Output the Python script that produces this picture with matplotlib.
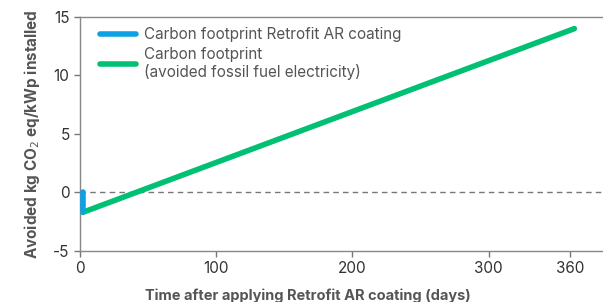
import matplotlib
matplotlib.use('Agg')
import matplotlib.pyplot as plt

plt.rcParams['font.family'] = ['Inter', 'DejaVu Sans']
plt.rcParams['axes.unicode_minus'] = False

# data
coating_days = [2, 2]
coating_co2 = [0, -1.7]
avoided_days = [2, 363]
avoided_co2 = [-1.7, 14]
xticks = [0, 100, 200, 300, 360]
yticks = [-5, 0, 5, 10, 15]

fig = plt.figure(figsize=(6.03, 3.02), dpi=100)
ax = fig.add_axes([0.1327, 0.169, 0.8673, 0.775])

ax.axhline(0, color='#777777', lw=1, ls=(0, (4, 3)), zorder=1)
ax.plot(coating_days, coating_co2, color='#0DA0E2', lw=4, clip_on=False,
        solid_capstyle='round', label='Carbon footprint Retrofit AR coating', zorder=3)
ax.plot(avoided_days, avoided_co2, color='#00C074', lw=4, clip_on=False,
        solid_capstyle='round', label='Carbon footprint\n(avoided fossil fuel electricity)', zorder=2)

ax.set_xlim(0, 384)
ax.set_ylim(-5, 15)
ax.set_xticks(xticks)
ax.set_yticks(yticks)

ax.spines['right'].set_visible(False)
for s in ['left', 'bottom', 'top']:
    ax.spines[s].set_color('#888888')
    ax.spines[s].set_linewidth(1)
ax.tick_params(colors='#777777', labelcolor='#333333', labelsize=11, length=4, width=1)

ax.set_xlabel('Time after applying Retrofit AR coating (days)', fontsize=10.5,
              fontweight='bold', color='#555555')
ax.xaxis.set_label_coords((308 - 80) / 523, -0.16)
ax.set_ylabel('Avoided kg CO$_2$ eq/kWp installed', fontsize=11,
              fontweight='bold', color='#555555', labelpad=8)

leg = ax.legend(loc='upper left', frameon=False, fontsize=11, handlelength=2.4,
                borderaxespad=0.2, labelspacing=0.3, handletextpad=0.5,
                bbox_to_anchor=(0.02, 0.995))
for t in leg.get_texts():
    t.set_color('#555555')

fig.savefig('out.png', dpi=100)
